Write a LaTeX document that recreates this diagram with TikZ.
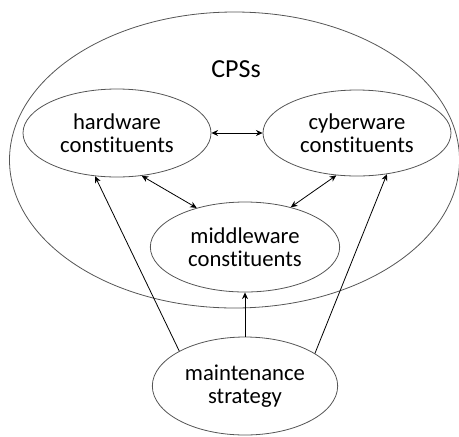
\documentclass[tikz,border=0pt]{standalone}
\usepackage{fontspec}
\setmainfont{Carlito}[Ligatures=CommonOff]
\usepackage{xcolor}
\definecolor{cpsline}{HTML}{555555}
\usetikzlibrary{shapes.geometric, arrows.meta, positioning}

\begin{document}
\begin{tikzpicture}[
  x=0.75pt, y=-0.75pt,
  part/.style={ellipse, draw=cpsline, line width=0.6pt, inner sep=1pt,
    minimum width=141pt, minimum height=66pt, align=center,
    font=\fontsize{17}{17.6}\selectfont},
  arrow/.style={-{Stealth[length=5pt, width=4.5pt]}, line width=0.6pt},
  twoway/.style={{Stealth[length=5pt, width=4.5pt]}-{Stealth[length=5pt, width=4.5pt]}, line width=0.6pt}
]
\useasboundingbox (0,0) rectangle (459,436);

\node[ellipse, draw=cpsline, line width=0.6pt, minimum width=337.5pt,
  minimum height=222pt] (cps) at (234.5,160) {};
\node[font=\fontsize{19.5}{20}\selectfont] (cpslabel) at (236,69) {CPSs};

\node[part] (hw) at (117,133) {hardware\\constituents};
\node[part, minimum height=64.5pt] (cw) at (357,133) {cyberware\\constituents};
\node[part, minimum width=142pt, minimum height=67.5pt] (mw) at (245,247) {middleware\\constituents};
\node[part, minimum width=139pt, minimum height=73.5pt] (ms) at (245,386) {maintenance\\strategy};

\draw[twoway] (hw.east) -- (cw.west);
\draw[twoway] (hw.300) -- (mw.141);
\draw[twoway] (cw.244) -- (mw.41);

\draw[arrow] (ms.152) -- (hw.243);
\draw[arrow] (ms.25) -- (cw.306);
\draw[arrow] (ms.north) -- (mw.south);
\end{tikzpicture}
\end{document}
